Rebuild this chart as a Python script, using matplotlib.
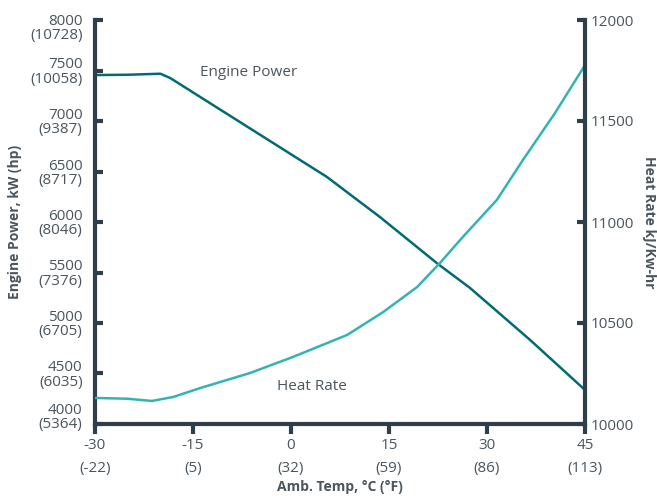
import numpy as np
import matplotlib.pyplot as plt
from matplotlib.transforms import ScaledTranslation

plt.rcParams['font.family'] = ['Open Sans', 'DejaVu Sans']

# ambient temperature, deg C
temp_power = [-30, -25, -20, -18.5, 5.5, 13.6, 22.5, 27.4, 36.6, 45]
engine_power = [7455, 7458, 7468, 7426, 6446, 6050, 5584, 5347, 4832, 4337]

temp_hr = [-30, -25, -21.3, -18, -13.9, -6.3, 0.3, 8.6, 14.1, 19.3, 22.8, 26.3, 31.5, 35.5, 40.4, 45]
heat_rate = [10129, 10125, 10114, 10134, 10178, 10252, 10332, 10441, 10554, 10678, 10797,
             10926, 11109, 11307, 11539, 11777]

x_ticks = [-30, -15, 0, 15, 30, 45]
x_labels = ['-30\n(-22)', '-15\n(5)', '0\n(32)', '15\n(59)', '30\n(86)', '45\n(113)']
kw_ticks = [4000, 4500, 5000, 5500, 6000, 6500, 7000, 7500, 8000]
hp_vals = [5364, 6035, 6705, 7376, 8046, 8717, 9387, 10058, 10728]
hr_ticks = [10000, 10500, 11000, 11500, 12000]

c_axis = '#2e3f49'
c_text = '#4a555c'
c_power = '#006b73'
c_hr = '#35b3b3'

fig = plt.figure(figsize=(6.57, 5.04), dpi=100)
ax = fig.add_axes([95/657, 1 - 424/504, 490/657, 404/504])
ax2 = ax.twinx()

ax.plot(temp_power, engine_power, color=c_power, lw=1.8)
ax2.plot(temp_hr, heat_rate, color=c_hr, lw=1.8)

ax.set_xlim(-30, 45)
ax.set_ylim(4000, 8000)
ax2.set_ylim(10000, 12000)

ax.set_xticks(x_ticks)
ax.set_xticklabels(x_labels, linespacing=1.75)
ax.set_yticks(kw_ticks)
ax.set_yticklabels([f'{k}\n({h})' for k, h in zip(kw_ticks, hp_vals)], linespacing=0.95)
ax2.set_yticks(hr_ticks)

for a in (ax, ax2):
    a.spines['top'].set_visible(False)
    for s in ('left', 'right', 'bottom'):
        a.spines[s].set_color(c_axis)
        a.spines[s].set_linewidth(3)
ax.spines['right'].set_visible(False)
ax2.spines['left'].set_visible(False)
ax2.spines['bottom'].set_visible(False)

ax.tick_params(axis='y', direction='in', length=6, width=3, color=c_axis,
               labelsize=11, labelcolor=c_text, pad=9)
ax.tick_params(axis='x', direction='out', length=7, width=3, color=c_axis,
               labelsize=11, labelcolor=c_text, pad=3)
ax2.tick_params(axis='y', direction='in', length=6, width=3, color=c_axis,
                labelsize=11, labelcolor=c_text, pad=4)

# end labels are nudged inside the axis range
labels = ax.get_yticklabels()
labels[0].set_transform(labels[0].get_transform() + ScaledTranslation(0, 8/100, fig.dpi_scale_trans))
labels[-1].set_transform(labels[-1].get_transform() + ScaledTranslation(0, -7/100, fig.dpi_scale_trans))

ax.set_ylabel('Engine Power, kW (hp)', fontsize=10, fontweight='bold', color=c_text, labelpad=6)
ax2.set_ylabel('Heat Rate kJ/Kw-hr', fontsize=10, fontweight='bold', color=c_text,
               rotation=-90, labelpad=16)
ax.set_xlabel('Amb. Temp, °C (°F)', fontsize=10, fontweight='bold', color=c_text, labelpad=3)

ax.text(-13.9, 7485, 'Engine Power', fontsize=11, color=c_text, va='center')
ax2.text(-2.1, 10188, 'Heat Rate', fontsize=11, color=c_text, va='center')

fig.savefig('out.png', dpi=100)
